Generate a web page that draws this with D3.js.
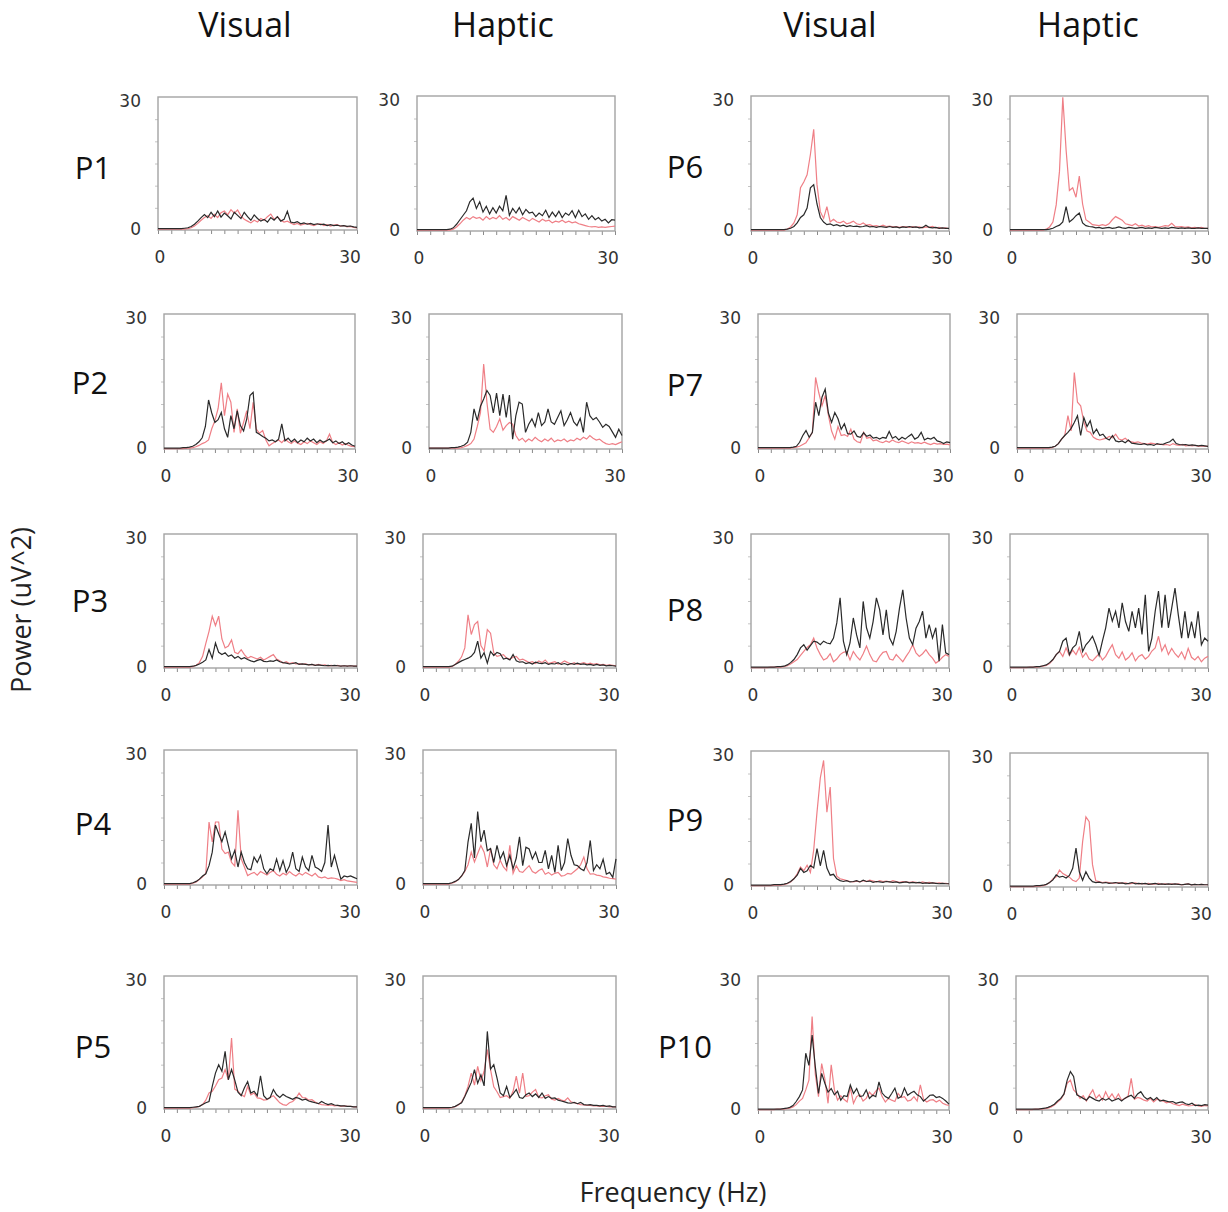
<!DOCTYPE html>
<html>
<meta charset="utf-8">
<script src="https://d3js.org/d3.v7.min.js"></script>
<style>
  body { margin: 0; background: #fff; }
</style>
<div id="chart"></div>
<script>

// frequency bins in Hz (0.5 Hz resolution)
var freqs = d3.range(0, 30.001, 0.5);

// power spectra (uV^2), one value per bin; black and red traces per panel
var p1VisualBlack = [
0.3,0.3,0.3,0.3,0.3,0.3,0.3,0.3,0.4,0.5,
0.8,1.3,2.0,2.8,3.5,2.8,4.0,3.0,4.3,2.9,
3.8,3.2,2.5,4.0,3.3,2.6,4.0,3.0,2.2,3.4,
2.6,2.0,2.4,1.8,2.8,2.2,3.0,2.0,2.4,4.2,
1.8,1.6,1.9,1.4,1.6,1.3,1.5,1.2,1.4,1.2,
1.3,1.0,1.2,1.0,1.1,0.9,1.0,0.8,0.9,0.7,
0.6];
var p1VisualRed = [
0.2,0.2,0.2,0.2,0.2,0.2,0.2,0.2,0.2,0.3,
0.5,0.9,1.5,2.2,2.8,3.2,2.6,3.5,2.8,3.9,
4.3,3.4,4.6,3.8,4.5,3.2,2.4,2.0,1.6,2.2,
1.8,2.6,2.2,3.0,3.6,2.4,3.0,2.2,1.8,2.0,
1.6,1.2,1.5,1.1,1.3,1.5,1.2,1.0,1.3,1.4,
1.0,1.2,0.9,1.1,1.2,0.9,1.0,0.7,0.8,0.6,
0.5];
var p1HapticBlack = [
0.3,0.3,0.3,0.3,0.3,0.3,0.3,0.3,0.3,0.3,
0.4,0.7,1.5,2.5,3.5,4.5,6.5,7.3,5.0,6.5,
4.2,5.5,3.8,5.2,4.0,5.5,4.5,7.9,3.5,5.0,
4.0,5.2,3.6,4.8,4.0,4.2,3.2,4.0,3.4,4.6,
3.0,4.2,3.2,4.4,3.0,4.0,3.5,4.5,3.0,4.6,
3.2,3.8,2.6,3.4,2.5,3.0,2.2,2.6,1.8,2.5,
2.4];
var p1HapticRed = [
0.2,0.2,0.2,0.2,0.2,0.2,0.2,0.2,0.2,0.2,
0.2,0.4,0.9,1.6,2.4,3.0,2.6,3.2,2.8,3.0,
2.4,3.2,2.6,3.0,2.7,3.4,2.6,3.0,2.4,3.2,
2.8,2.4,3.0,2.6,2.2,2.8,2.4,2.0,2.6,2.2,
2.4,1.8,2.2,2.0,2.4,1.9,2.2,1.8,2.0,1.6,
1.4,1.2,1.0,0.9,1.0,0.8,0.9,0.8,0.9,1.0,
1.1];

var p2VisualBlack = [
0.2,0.2,0.2,0.2,0.2,0.2,0.3,0.3,0.4,0.6,
1.0,1.6,2.5,5.0,10.9,8.0,5.9,6.5,8.1,4.5,
2.6,7.4,4.5,8.5,5.2,4.0,6.7,11.9,12.6,3.7,
3.3,2.8,2.4,1.8,2.0,1.6,2.2,5.6,1.8,2.4,
1.6,2.2,1.4,2.0,1.6,2.4,1.8,2.2,1.4,2.0,
1.5,1.8,2.2,1.4,1.8,1.2,1.6,1.0,1.4,0.9,
0.6];
var p2VisualRed = [
0.1,0.1,0.1,0.1,0.1,0.1,0.1,0.2,0.2,0.3,
0.5,0.8,1.2,1.5,2.0,4.5,6.3,9.0,14.7,7.4,
12.2,10.4,3.7,8.9,3.5,5.9,8.5,4.5,10.4,4.4,
3.5,4.1,2.0,0.7,1.2,1.6,2.0,1.4,2.2,1.6,
1.2,1.8,1.3,1.0,1.6,1.2,1.8,1.4,1.0,1.6,
1.2,1.8,3.3,1.4,1.0,1.4,0.9,1.2,0.8,0.6,
0.5];
var p2HapticBlack = [
0.2,0.2,0.2,0.2,0.2,0.2,0.2,0.3,0.3,0.4,
0.6,0.9,1.5,3.7,8.9,6.3,9.5,11.1,13.0,11.9,
8.0,12.4,7.4,12.2,7.0,12.0,2.2,7.4,10.4,10.0,
3.7,5.5,6.7,5.0,8.1,5.2,6.0,8.9,6.0,5.5,
7.0,8.5,5.2,6.5,8.1,6.0,5.2,6.8,3.7,10.4,
7.4,6.5,7.0,6.0,4.8,5.5,5.0,3.8,2.6,4.4,
3.0];
var p2HapticRed = [
0.2,0.2,0.2,0.2,0.2,0.2,0.2,0.2,0.2,0.2,
0.3,0.5,0.8,1.2,2.2,5.0,8.1,18.9,10.4,4.4,
3.7,5.0,6.7,4.2,5.2,5.9,5.5,3.0,1.9,2.4,
1.6,2.2,1.8,2.6,2.0,1.6,2.2,1.8,2.4,1.6,
2.0,1.8,2.2,1.6,2.0,1.8,2.4,2.0,2.6,2.2,
3.0,2.4,2.0,2.2,1.6,1.2,1.0,1.2,1.0,1.3,
1.6];

var p3VisualBlack = [
0.3,0.3,0.3,0.3,0.3,0.3,0.3,0.3,0.3,0.4,
0.6,0.9,1.3,1.8,4.1,2.2,5.6,3.5,3.0,3.4,
2.6,2.9,2.2,2.6,2.0,2.3,1.9,1.6,1.4,1.7,
1.9,1.5,1.4,1.6,1.5,1.8,1.4,1.2,1.1,0.9,
1.0,1.2,0.8,0.9,0.8,0.7,0.8,0.6,0.7,0.6,
0.5,0.6,0.5,0.6,0.5,0.4,0.5,0.4,0.5,0.4,
0.4];
var p3VisualRed = [
0.2,0.2,0.2,0.2,0.2,0.2,0.2,0.2,0.2,0.3,
0.6,1.2,2.6,5.5,8.2,11.6,9.5,11.6,6.5,4.5,
4.9,6.3,3.5,3.2,4.1,3.0,2.2,2.6,2.3,2.0,
2.4,1.8,2.2,2.6,3.0,2.0,1.6,1.1,1.4,1.0,
1.2,0.9,1.0,0.8,0.9,0.7,0.8,0.6,0.8,0.6,
0.7,0.5,0.6,0.5,0.6,0.4,0.5,0.4,0.5,0.4,
0.4];
var p3HapticBlack = [
0.3,0.3,0.3,0.3,0.3,0.3,0.3,0.3,0.3,0.4,
0.8,1.2,1.6,1.9,2.2,2.6,3.5,6.0,2.2,3.4,
1.1,3.7,2.8,3.5,3.2,2.0,2.2,1.8,3.0,1.6,
1.3,1.4,1.0,1.2,0.9,1.3,1.1,1.0,1.2,0.8,
1.0,0.9,1.2,0.8,1.0,0.7,1.0,0.8,1.1,0.8,
0.9,0.7,0.8,0.6,0.8,0.6,0.7,0.5,0.6,0.5,
0.4];
var p3HapticRed = [
0.2,0.2,0.2,0.2,0.2,0.2,0.2,0.2,0.2,0.3,
0.8,1.5,2.5,4.5,11.9,7.5,9.7,10.4,5.0,3.8,
8.6,7.8,3.4,2.6,2.8,3.0,2.2,2.0,2.4,2.6,
1.8,2.0,1.6,1.2,1.4,1.0,1.6,1.2,1.8,1.0,
1.2,1.4,0.9,1.1,1.6,1.2,0.9,1.2,0.8,1.0,
1.2,0.9,1.1,0.8,1.0,0.7,0.8,0.6,0.7,0.6,
0.5];

var p4VisualBlack = [
0.3,0.3,0.3,0.3,0.3,0.3,0.3,0.3,0.3,0.5,
0.8,1.3,2.0,2.5,4.3,7.3,13.3,11.4,9.6,11.8,
8.8,5.8,7.7,4.0,7.3,5.0,3.6,3.4,6.2,5.0,
6.6,3.6,2.5,3.6,3.2,5.8,3.2,5.4,2.8,4.2,
7.3,3.6,3.0,6.2,4.0,3.2,6.6,4.0,3.6,3.0,
5.0,13.3,4.0,6.6,3.8,1.3,2.0,1.8,2.0,1.7,
1.4];
var p4VisualRed = [
0.2,0.2,0.2,0.2,0.2,0.2,0.2,0.2,0.2,0.4,
0.7,1.2,1.8,2.6,14.0,9.6,14.0,14.0,8.0,7.0,
7.3,5.0,4.2,16.6,5.8,4.0,2.1,2.5,2.8,2.2,
3.0,2.6,2.2,2.8,3.2,2.4,2.0,2.6,2.2,3.0,
2.4,2.0,2.6,2.2,2.8,2.4,2.0,2.6,1.8,1.6,
1.8,1.4,1.6,1.5,1.3,1.0,1.2,0.9,0.8,0.7,
0.6];
var p4HapticBlack = [
0.3,0.3,0.3,0.3,0.3,0.3,0.3,0.3,0.3,0.5,
0.8,1.2,2.0,3.2,9.6,13.7,6.0,16.3,9.6,12.2,
7.6,8.1,5.0,8.8,5.8,7.3,4.3,6.6,3.6,6.0,
10.7,4.3,8.4,8.0,5.8,7.3,5.0,5.0,7.7,3.6,
6.6,2.8,8.8,3.2,5.0,10.3,6.6,4.5,4.3,3.6,
3.2,5.0,9.9,3.2,4.5,3.6,5.7,2.4,2.8,1.7,
5.8];
var p4HapticRed = [
0.2,0.2,0.2,0.2,0.2,0.2,0.2,0.2,0.2,0.4,
0.7,1.2,2.0,3.0,4.5,7.3,5.1,7.0,8.8,7.3,
4.0,8.1,4.5,3.6,5.5,4.0,3.2,8.8,2.6,4.3,
3.0,2.8,3.6,4.3,3.0,2.6,3.2,3.6,2.4,2.8,
2.2,2.6,2.8,2.0,2.1,2.6,2.4,3.0,3.6,4.5,
6.2,3.6,2.4,2.5,2.2,2.1,1.8,1.7,1.5,1.4,
1.3];

var p5VisualBlack = [
0.3,0.3,0.3,0.3,0.3,0.3,0.3,0.3,0.3,0.4,
0.5,0.6,1.0,1.4,1.7,5.1,8.1,10.0,8.5,13.0,
6.6,8.9,6.5,3.8,3.0,4.8,6.2,3.6,4.0,3.0,
7.5,3.0,2.2,2.6,4.4,3.2,2.6,3.3,2.8,2.5,
2.2,2.6,2.4,2.0,2.2,1.8,1.6,1.4,1.2,1.7,
1.3,1.0,1.2,0.9,0.8,0.7,0.7,0.6,0.6,0.5,
0.5];
var p5VisualRed = [
0.2,0.2,0.2,0.2,0.2,0.2,0.2,0.2,0.2,0.3,
0.4,0.6,1.0,2.0,3.6,4.0,5.2,6.6,7.0,8.9,
6.6,16.0,4.5,4.0,3.2,2.8,5.1,3.2,3.6,2.5,
2.4,2.0,2.1,2.6,3.0,2.2,1.4,1.0,0.8,1.4,
1.7,2.4,3.6,2.6,2.5,2.0,2.1,1.6,1.2,1.0,
0.9,0.8,0.9,0.7,0.8,0.6,0.7,0.6,0.6,0.5,
0.5];
var p5HapticBlack = [
0.3,0.3,0.3,0.3,0.3,0.3,0.3,0.3,0.3,0.4,
0.6,1.0,1.4,2.8,4.4,6.0,8.9,5.8,7.7,5.2,
17.5,9.0,10.0,7.0,3.6,3.0,5.1,2.6,3.4,4.4,
2.6,2.4,3.2,3.6,2.8,3.4,2.6,3.6,2.4,2.8,
2.4,2.5,2.0,1.8,1.6,1.4,1.3,1.5,1.2,1.5,
1.0,0.9,1.0,0.8,0.8,0.7,0.8,0.6,0.7,0.5,
0.5];
var p5HapticRed = [
0.2,0.2,0.2,0.2,0.2,0.2,0.2,0.2,0.2,0.3,
0.5,0.9,1.6,3.0,5.1,8.1,5.4,9.6,6.4,8.5,
13.4,8.9,5.0,3.9,2.6,2.8,3.0,2.4,4.0,7.4,
3.6,8.1,2.8,3.0,3.8,4.4,2.6,2.5,3.0,3.2,
2.2,2.0,2.4,2.0,1.8,2.5,1.6,1.4,1.2,1.0,
0.9,0.8,0.8,0.7,0.7,0.6,0.6,0.6,0.5,0.5,
0.5];

var p6VisualBlack = [
0.3,0.3,0.3,0.3,0.3,0.3,0.3,0.3,0.3,0.3,
0.3,0.4,0.6,1.0,1.8,3.0,3.6,5.1,9.6,10.3,
6.0,3.0,2.0,1.4,1.6,1.2,1.4,1.1,1.3,1.0,
1.2,1.0,1.1,0.9,1.0,1.2,0.9,1.0,0.8,1.0,
0.9,0.8,1.0,0.8,0.9,0.7,0.9,0.8,1.0,0.8,
0.9,0.7,0.8,1.3,0.8,0.7,0.8,0.6,0.7,0.6,
0.6];
var p6VisualRed = [
0.2,0.2,0.2,0.2,0.2,0.2,0.2,0.2,0.2,0.2,
0.2,0.4,0.9,1.8,3.6,9.6,10.9,12.5,17.0,22.6,
10.3,4.3,2.8,5.4,2.0,2.6,2.0,1.8,2.2,1.6,
1.8,2.2,1.6,1.4,1.8,1.3,1.4,1.1,1.2,1.0,
1.3,1.0,1.1,0.9,1.0,0.8,1.0,0.9,0.8,1.0,
0.8,0.9,0.7,0.9,0.8,1.0,0.7,0.8,0.6,0.7,
0.5];
var p6HapticBlack = [
0.3,0.3,0.3,0.3,0.3,0.3,0.3,0.3,0.3,0.3,
0.3,0.3,0.4,0.6,1.0,1.3,2.0,5.4,2.0,2.6,
3.4,4.0,1.8,1.2,1.0,0.9,0.7,0.8,0.6,0.7,
0.8,0.6,0.7,0.9,0.7,0.6,0.8,0.7,0.6,0.7,
0.8,0.6,0.7,0.6,0.8,0.7,0.6,0.7,0.6,0.8,
0.7,0.6,0.7,0.6,0.7,0.6,0.6,0.7,0.6,0.6,
0.6];
var p6HapticRed = [
0.2,0.2,0.2,0.2,0.2,0.2,0.2,0.2,0.2,0.2,
0.2,0.4,0.9,2.0,5.8,13.3,29.7,18.0,9.0,9.6,
7.5,12.2,6.0,2.5,2.0,1.4,1.3,1.2,1.4,1.2,
1.6,2.5,3.2,2.8,2.4,1.6,1.4,1.2,1.6,1.1,
1.3,1.0,1.2,0.9,1.0,0.8,1.0,1.2,1.1,1.7,
1.0,0.9,1.0,0.8,0.9,0.7,0.8,0.7,0.8,0.6,
0.6];

var p7VisualBlack = [
0.3,0.3,0.3,0.3,0.3,0.3,0.3,0.3,0.3,0.3,
0.3,0.4,0.6,1.5,3.0,4.1,2.6,3.7,10.4,7.4,
11.5,13.3,8.0,5.9,8.1,6.7,4.4,5.6,3.4,3.3,
4.0,2.8,2.6,3.6,2.8,3.1,2.4,2.6,2.2,2.6,
2.4,3.9,2.4,2.8,2.0,2.6,2.2,2.8,3.3,2.2,
2.6,3.7,2.0,2.4,2.2,2.6,1.8,1.6,1.2,1.6,
1.4];
var p7VisualRed = [
0.2,0.2,0.2,0.2,0.2,0.2,0.2,0.2,0.2,0.2,
0.2,0.3,0.4,0.6,1.0,1.4,2.5,3.7,15.9,12.5,
9.6,11.9,7.5,4.0,2.2,5.0,3.0,3.2,2.8,4.4,
2.2,1.6,1.4,3.7,2.4,2.6,1.8,2.0,1.6,1.4,
1.8,1.5,2.0,1.6,1.4,1.8,1.5,1.2,1.6,1.3,
1.4,1.2,1.5,1.2,1.0,1.3,1.1,1.2,1.0,1.1,
0.9];
var p7HapticBlack = [
0.3,0.3,0.3,0.3,0.3,0.3,0.3,0.3,0.3,0.3,
0.3,0.4,0.6,1.2,2.2,3.0,3.7,4.6,5.9,7.4,
3.0,7.0,5.0,6.3,3.4,4.4,3.0,3.3,2.4,2.0,
3.0,1.8,1.6,1.8,1.4,2.0,1.3,1.2,1.1,1.0,
1.2,0.9,1.0,0.8,1.2,1.0,1.1,1.4,1.6,2.2,
1.2,1.0,0.9,1.0,0.8,0.9,0.8,0.7,0.8,0.7,
0.6];
var p7HapticRed = [
0.2,0.2,0.2,0.2,0.2,0.2,0.2,0.2,0.2,0.2,
0.2,0.3,0.6,1.2,2.2,3.0,7.4,4.0,17.0,10.4,
9.6,6.0,4.0,3.7,2.6,2.2,2.0,2.2,2.4,2.8,
2.5,3.3,2.2,2.0,2.4,1.8,1.6,1.4,1.6,1.3,
1.2,1.1,1.3,1.2,1.0,1.1,0.9,1.0,0.8,1.2,
0.9,0.8,1.0,0.7,0.8,0.7,0.8,0.6,0.7,0.6,
0.6];

var p8VisualBlack = [
0.2,0.2,0.2,0.2,0.2,0.2,0.2,0.2,0.3,0.3,
0.4,0.7,1.2,1.9,3.0,4.5,5.2,4.0,5.0,6.0,
5.8,5.2,6.0,5.6,5.4,6.7,10.1,15.7,6.0,3.0,
5.6,11.2,7.4,4.5,14.9,9.0,6.7,10.4,15.7,13.0,
7.4,13.0,6.7,5.2,8.2,13.4,17.5,11.2,6.7,5.2,
8.9,10.4,12.7,6.7,9.7,6.7,9.0,1.5,9.7,3.4,
3.0];
var p8VisualRed = [
0.1,0.1,0.1,0.1,0.1,0.1,0.2,0.2,0.2,0.2,
0.3,0.5,0.9,1.4,1.9,2.8,3.7,4.6,5.2,6.7,
4.5,3.0,1.8,2.2,3.2,1.4,2.0,3.0,3.5,3.7,
1.8,3.7,2.6,1.8,3.2,4.9,3.0,1.6,1.4,2.6,
3.5,3.7,2.0,1.8,3.0,2.2,1.4,2.6,3.7,5.2,
3.4,2.6,3.2,4.1,3.0,2.2,1.1,1.6,2.4,3.0,
2.6];
var p8HapticBlack = [
0.2,0.2,0.2,0.2,0.2,0.2,0.2,0.2,0.3,0.3,
0.5,0.7,1.2,1.9,3.0,3.7,6.0,6.7,3.0,4.5,
5.2,8.2,3.7,5.2,6.0,7.1,5.2,2.8,6.0,9.0,
13.4,10.5,12.7,9.0,14.6,10.4,8.2,12.7,9.0,13.4,
7.5,16.4,3.7,6.7,12.7,17.2,9.0,16.4,9.0,13.4,
17.9,11.9,6.7,12.7,6.7,10.4,6.7,12.7,5.2,6.7,
6.0];
var p8HapticRed = [
0.1,0.1,0.1,0.1,0.1,0.1,0.2,0.2,0.2,0.3,
0.4,0.6,1.0,1.8,3.0,3.7,2.6,4.5,2.8,4.0,
3.0,4.6,2.4,3.4,2.0,1.6,2.4,3.2,1.8,2.6,
4.0,5.2,3.0,2.2,3.6,1.8,2.4,3.4,1.6,2.6,
3.0,2.0,2.6,3.8,4.5,7.1,3.8,5.2,3.0,4.4,
3.2,2.4,3.6,2.0,4.4,2.4,1.8,2.6,1.4,2.2,
2.6];

var p9VisualBlack = [
0.2,0.2,0.2,0.2,0.2,0.2,0.2,0.3,0.3,0.3,
0.4,0.6,1.0,1.6,2.4,3.9,3.0,3.4,4.6,4.0,
8.3,4.5,7.9,4.0,2.4,2.6,1.6,1.2,1.0,1.2,
0.9,1.0,1.2,0.9,1.3,1.0,1.1,0.8,1.0,0.9,
0.8,1.0,0.9,0.8,0.9,0.7,0.8,0.9,0.7,0.8,
0.7,0.8,0.6,0.7,0.6,0.7,0.6,0.5,0.6,0.5,
0.5];
var p9VisualRed = [
0.1,0.1,0.1,0.1,0.1,0.1,0.1,0.2,0.2,0.2,
0.3,0.5,0.9,1.6,2.7,4.2,3.4,4.6,3.0,8.0,
16.4,24.0,27.9,16.4,22.0,6.1,2.2,1.6,1.4,1.2,
1.0,0.9,1.1,0.9,1.2,1.0,1.3,1.1,0.9,1.2,
1.0,1.1,0.9,1.2,1.0,0.8,1.0,0.9,0.8,0.9,
0.8,0.7,0.9,0.7,0.8,0.7,0.6,0.7,0.6,0.6,
0.5];
var p9HapticBlack = [
0.2,0.2,0.2,0.2,0.2,0.2,0.2,0.2,0.3,0.3,
0.4,0.6,1.0,1.6,2.7,2.2,2.4,2.0,2.6,4.2,
8.7,3.4,1.5,3.4,2.0,1.2,1.0,1.1,0.9,1.0,
0.8,0.9,1.0,0.8,0.9,0.7,0.8,1.0,0.7,0.8,
0.7,0.8,0.6,0.7,0.8,0.6,0.7,0.6,0.7,0.6,
0.7,0.6,0.5,0.6,0.7,0.5,0.6,0.5,0.6,0.5,
0.5];
var p9HapticRed = [
0.1,0.1,0.1,0.1,0.1,0.1,0.1,0.1,0.2,0.2,
0.3,0.5,1.0,1.8,2.3,3.8,3.0,2.6,2.2,1.5,
1.2,2.0,10.1,15.7,14.6,5.0,1.4,1.2,1.0,1.1,
1.0,0.8,0.9,1.0,0.8,0.9,0.7,0.8,0.9,0.7,
0.8,0.7,0.8,0.6,0.7,0.8,0.6,0.7,0.6,0.7,
0.6,0.7,0.5,0.6,0.7,0.5,0.6,0.5,0.6,0.5,
0.5];

var p10VisualBlack = [
0.2,0.2,0.2,0.2,0.2,0.2,0.2,0.2,0.3,0.4,
0.6,1.0,1.9,3.0,4.5,12.7,10.0,16.8,9.7,3.7,
8.2,6.0,4.0,4.8,3.4,4.2,2.2,3.2,3.0,5.6,
3.7,4.8,3.0,3.2,4.5,2.6,3.3,3.0,6.3,3.8,
3.0,2.6,3.7,4.9,2.6,3.0,4.9,3.3,3.8,4.2,
3.4,3.0,2.0,2.6,3.3,3.4,2.8,3.0,2.6,2.0,
1.3];
var p10VisualRed = [
0.1,0.1,0.1,0.1,0.1,0.1,0.2,0.2,0.2,0.3,
0.4,0.7,1.2,2.0,2.6,4.5,6.7,20.9,8.0,3.0,
10.4,7.0,1.5,10.1,4.5,2.2,3.2,2.4,1.8,5.0,
1.5,3.0,3.4,2.0,2.6,4.0,3.2,4.2,4.9,3.0,
1.8,2.6,2.2,1.9,3.7,2.8,3.0,2.0,2.2,3.0,
2.0,5.6,2.4,1.8,2.2,2.3,1.8,2.2,1.5,1.2,
1.0];
var p10HapticBlack = [
0.2,0.2,0.2,0.2,0.2,0.2,0.2,0.2,0.3,0.4,
0.6,0.9,1.3,2.0,2.6,3.6,6.7,8.6,7.5,3.4,
3.0,2.6,2.2,3.0,2.6,2.2,2.0,2.6,2.2,2.6,
2.0,2.3,2.6,2.0,2.6,3.0,3.3,2.6,3.6,4.1,
3.0,2.4,2.8,2.2,2.8,2.0,2.2,2.0,1.8,1.9,
1.5,1.7,1.8,1.4,1.2,1.5,1.0,1.1,1.0,1.2,
1.1];
var p10HapticRed = [
0.1,0.1,0.1,0.1,0.1,0.1,0.2,0.2,0.2,0.3,
0.4,0.7,1.1,1.8,2.4,3.5,6.0,6.7,4.5,3.8,
2.6,3.2,2.0,3.4,4.5,2.6,3.4,2.2,4.1,2.6,
3.6,2.4,3.6,2.2,2.6,3.0,7.1,2.4,2.8,2.6,
2.2,2.0,2.6,1.8,2.4,2.2,2.0,1.6,1.8,1.4,
1.2,1.0,1.3,1.1,0.9,1.0,1.2,0.9,0.8,1.0,
0.9];

// labels
var participants = ["P1","P2","P3","P4","P5","P6","P7","P8","P9","P10"];
var conditions = ["Visual","Haptic"];
var xTickLabels = ["0","30"];
var yTickLabels = ["0","30"];

var panels = [
  {p:"P1", cond:"Visual", black:p1VisualBlack, red:p1VisualRed},
  {p:"P1", cond:"Haptic", black:p1HapticBlack, red:p1HapticRed},
  {p:"P2", cond:"Visual", black:p2VisualBlack, red:p2VisualRed},
  {p:"P2", cond:"Haptic", black:p2HapticBlack, red:p2HapticRed},
  {p:"P3", cond:"Visual", black:p3VisualBlack, red:p3VisualRed},
  {p:"P3", cond:"Haptic", black:p3HapticBlack, red:p3HapticRed},
  {p:"P4", cond:"Visual", black:p4VisualBlack, red:p4VisualRed},
  {p:"P4", cond:"Haptic", black:p4HapticBlack, red:p4HapticRed},
  {p:"P5", cond:"Visual", black:p5VisualBlack, red:p5VisualRed},
  {p:"P5", cond:"Haptic", black:p5HapticBlack, red:p5HapticRed},
  {p:"P6", cond:"Visual", black:p6VisualBlack, red:p6VisualRed},
  {p:"P6", cond:"Haptic", black:p6HapticBlack, red:p6HapticRed},
  {p:"P7", cond:"Visual", black:p7VisualBlack, red:p7VisualRed},
  {p:"P7", cond:"Haptic", black:p7HapticBlack, red:p7HapticRed},
  {p:"P8", cond:"Visual", black:p8VisualBlack, red:p8VisualRed},
  {p:"P8", cond:"Haptic", black:p8HapticBlack, red:p8HapticRed},
  {p:"P9", cond:"Visual", black:p9VisualBlack, red:p9VisualRed},
  {p:"P9", cond:"Haptic", black:p9HapticBlack, red:p9HapticRed},
  {p:"P10", cond:"Visual", black:p10VisualBlack, red:p10VisualRed},
  {p:"P10", cond:"Haptic", black:p10HapticBlack, red:p10HapticRed}
];

// plot boxes [left, top, right, bottom], same order as panels
var boxes = [
  [158,97,357,230],  [417,96,615,231],
  [164,314,355,449], [429,314,622,449],
  [164,534,357,668], [423,534,616,668],
  [164,750,357,885], [423,750,616,885],
  [164,976,357,1109],[423,976,616,1109],
  [751,96,949,231],  [1010,96,1208,231],
  [758,314,950,449], [1017,314,1208,449],
  [751,534,949,668], [1010,534,1208,668],
  [751,751,949,886], [1010,753,1208,887],
  [758,976,949,1110],[1016,976,1208,1110]
];

var labelPos = [[93,179],[90,394],[90,612],[93,835],[93,1058],
                [685,178],[685,396],[685,621],[685,831],[685,1058]];
var headerX = [245, 503, 830, 1088];

var svg = d3.select("#chart")
  .append("svg")
    .attr("width", 1228)
    .attr("height", 1212)
    .style("font-family", "'Open Sans', sans-serif");

// column headers
headerX.forEach(function(x, i) {
  svg.append("text")
    .attr("x", x).attr("y", 37)
    .attr("text-anchor", "middle")
    .style("font-size", "34px")
    .style("fill", "#111")
    .text(conditions[i % 2]);
});

// participant labels
participants.forEach(function(p, i) {
  svg.append("text")
    .attr("x", labelPos[i][0]).attr("y", labelPos[i][1])
    .attr("text-anchor", "middle")
    .style("font-size", "31px")
    .style("fill", "#111")
    .text(p);
});

// axis titles
svg.append("text")
  .attr("x", 673).attr("y", 1202)
  .attr("text-anchor", "middle")
  .style("font-size", "27px")
  .style("fill", "#222")
  .text("Frequency (Hz)");

svg.append("text")
  .attr("transform", "translate(31,610) rotate(-90)")
  .attr("text-anchor", "middle")
  .style("font-size", "27px")
  .style("fill", "#222")
  .text("Power (uV^2)");

panels.forEach(function(d, i) {
  var b = boxes[i];
  var x = d3.scaleLinear().domain([0, 30]).range([b[0], b[2]]);
  var y = d3.scaleLinear().domain([0, 30]).range([b[3], b[1]]);
  var g = svg.append("g");

  // minor ticks
  g.append("g")
    .attr("transform", "translate(0," + b[3] + ")")
    .call(d3.axisBottom(x).tickValues(d3.range(0, 31, 2)).tickSize(4).tickFormat(""))
    .call(function(a) {
      a.select(".domain").remove();
      a.selectAll("line").attr("stroke", "#8a8a8a");
    });
  g.append("g")
    .attr("transform", "translate(" + b[0] + ",0)")
    .call(d3.axisLeft(y).tickValues(d3.range(5, 30, 5)).tickSize(3).tickFormat(""))
    .call(function(a) {
      a.select(".domain").remove();
      a.selectAll("line").attr("stroke", "#c4c4c4");
    });

  // frame
  g.append("rect")
    .attr("x", b[0]).attr("y", b[1])
    .attr("width", b[2] - b[0]).attr("height", b[3] - b[1])
    .attr("fill", "none")
    .attr("stroke", "#a3a3a3")
    .attr("stroke-width", 1.4);

  var line = d3.line()
    .x(function(v, k) { return x(freqs[k]); })
    .y(function(v) { return y(v); });

  g.append("path")
    .datum(d.red)
    .attr("d", line)
    .attr("fill", "none")
    .attr("stroke", "#ef7f86")
    .attr("stroke-width", 1.2);

  g.append("path")
    .datum(d.black)
    .attr("d", line)
    .attr("fill", "none")
    .attr("stroke", "#2a2a2a")
    .attr("stroke-width", 1.2);

  // tick labels
  var tickFont = "'DejaVu Sans', Verdana, sans-serif";
  var tickSize = "17px";
  g.append("text")
    .attr("x", b[0] - 17).attr("y", y(30) + 10)
    .attr("text-anchor", "end")
    .style("font-family", tickFont).style("font-size", tickSize).style("fill", "#333")
    .text(yTickLabels[1]);
  g.append("text")
    .attr("x", b[0] - 17).attr("y", y(0) + 5)
    .attr("text-anchor", "end")
    .style("font-family", tickFont).style("font-size", tickSize).style("fill", "#333")
    .text(yTickLabels[0]);
  g.append("text")
    .attr("x", x(0) + 2).attr("y", b[3] + 33)
    .attr("text-anchor", "middle")
    .style("font-family", tickFont).style("font-size", tickSize).style("fill", "#333")
    .text(xTickLabels[0]);
  g.append("text")
    .attr("x", x(30) - 7).attr("y", b[3] + 33)
    .attr("text-anchor", "middle")
    .style("font-family", tickFont).style("font-size", tickSize).style("fill", "#333")
    .text(xTickLabels[1]);
});
</script>
</html>
